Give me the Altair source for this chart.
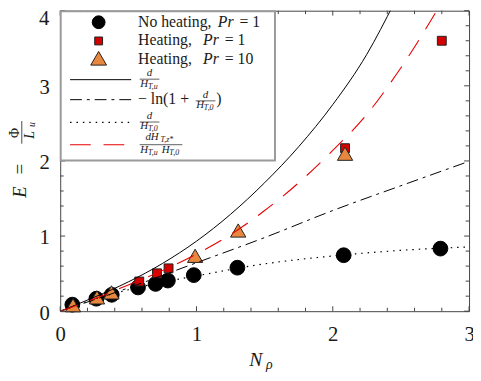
import altair as alt
import pandas as pd
import numpy as np

# ---------------- data ----------------
nh_x = [0.089, 0.265, 0.378, 0.571, 0.70, 0.79, 0.98, 1.30, 2.08, 2.79]
nh_y = [0.087, 0.166, 0.218, 0.316, 0.363, 0.408, 0.48, 0.579, 0.745, 0.833]

h1_x = [0.58, 0.71, 0.795, 2.09, 2.80]
h1_y = [0.395, 0.504, 0.57, 2.17, 3.60]

h10_x = [0.094, 0.27, 0.376, 0.99, 1.306, 2.09]
h10_y = [0.079, 0.184, 0.25, 0.737, 1.074, 2.096]

solid_x = [0, 0.25, 0.5, 0.75, 1.0, 1.25, 1.5, 1.75, 2.0, 2.25, 2.45]
solid_y = [0, 0.186, 0.39, 0.635, 0.932, 1.29, 1.71, 2.19, 2.75, 3.42, 4.1]

dashdot_x = [0, 0.5, 1.0, 1.5, 2.0, 2.5, 3.0]
dashdot_y = [0, 0.31, 0.645, 0.98, 1.34, 1.67, 1.995]

dotted_x = [0, 0.25, 0.5, 0.75, 1.0, 1.5, 2.0, 2.5, 3.0]
dotted_y = [0, 0.16, 0.285, 0.385, 0.47, 0.63, 0.735, 0.81, 0.855]

red_x = [0, 0.25, 0.5, 0.75, 1.0, 1.25, 1.5, 1.75, 2.0, 2.25, 2.5, 2.79]
red_y = [0, 0.165, 0.35, 0.54, 0.76, 1.02, 1.34, 1.71, 2.14, 2.62, 3.24, 4.08]

x_major = [0, 1, 2, 3]
y_major = [0, 1, 2, 3, 4]
y_labels_axis = [0, 1, 2, 3]
top_label = "4"
x_minor = [round(v, 1) for v in np.arange(0.2, 3.0, 0.2) if abs(v - round(v)) > 1e-6]
y_minor = [round(v, 1) for v in np.arange(0.2, 4.0, 0.2) if abs(v - round(v)) > 1e-6]

# ---------------- styling ----------------
W, H = 415, 305
FONT = "Liberation Serif, Times New Roman, Tinos, DejaVu Serif, serif"
TXT = "#1a1a1a"
FRAME = "#444444"
RED = "#e60000"
SQ_RED = "#d40000"
ORANGE = "#e8883e"

xs = alt.Scale(domain=[0, 3], nice=False, zero=False)
ys = alt.Scale(domain=[0, 4], nice=False, zero=False)
xaxis = alt.Axis(values=x_major, title=None, ticks=False, domain=False, grid=False,
                 labelFont=FONT, labelFontSize=21, labelColor=TXT, labelPadding=13,
                 format="d", labelFlush=False)
yaxis = alt.Axis(values=y_labels_axis, title=None, ticks=False, domain=False, grid=False,
                 labelFont=FONT, labelFontSize=21, labelColor=TXT, labelPadding=11,
                 labelOffset=2, format="d", labelFlush=False)

one = pd.DataFrame({"a": [0]})


def X(f):
    return alt.X(f, scale=xs, axis=xaxis)


def Y(f):
    return alt.Y(f, scale=ys, axis=yaxis)


def line(xv, yv, color, dash=None, width=1.0):
    df = pd.DataFrame({"x": xv, "y": yv})
    kw = dict(color=color, strokeWidth=width, clip=True, interpolate="monotone")
    if dash:
        kw["strokeDash"] = dash
    return alt.Chart(df).mark_line(**kw).encode(x=X("x:Q"), y=Y("y:Q"))


def pts(xv, yv, shape, size, fill, stroke):
    df = pd.DataFrame({"x": xv, "y": yv})
    return alt.Chart(df).mark_point(shape=shape, size=size, fill=fill, stroke=stroke,
                                    strokeWidth=1, fillOpacity=1, opacity=1).encode(
        x=X("x:Q"), y=Y("y:Q"))


def txt(s, x, y, size, italic=False, align="left", baseline="alphabetic", angle=0):
    kw = dict(text=s, font=FONT, fontSize=size, color=TXT, align=align, baseline=baseline)
    if italic:
        kw["fontStyle"] = "italic"
    if angle:
        kw["angle"] = angle
    return alt.Chart(one).mark_text(**kw).encode(x=alt.value(x), y=alt.value(y))


def hrule(x1, x2, y, color=TXT, width=0.8, dash=None):
    kw = dict(color=color, strokeWidth=width)
    if dash:
        kw["strokeDash"] = dash
    return alt.Chart(one).mark_rule(**kw).encode(x=alt.value(x1), x2=alt.value(x2), y=alt.value(y))


def vrule(x, y1, y2, color=TXT, width=0.8):
    return alt.Chart(one).mark_rule(color=color, strokeWidth=width).encode(
        x=alt.value(x), y=alt.value(y1), y2=alt.value(y2))


def sym(x, y, shape, size, fill, stroke):
    return alt.Chart(one).mark_point(shape=shape, size=size, fill=fill, stroke=stroke,
                                     strokeWidth=1, fillOpacity=1, opacity=1).encode(
        x=alt.value(x), y=alt.value(y))


# coordinate helpers (page pixels -> plot pixels)
def LX(px):
    return px - 61


def LY(py):  # legend rows (shifted slightly)
    return py - 4


def AY(py):
    return py - 8


layers = []

# markers
layers.append(pts(nh_x, nh_y, "circle", 225, "black", "black"))
layers.append(pts(h1_x, h1_y, "square", 81, SQ_RED, "#222222"))
layers.append(pts(h10_x, h10_y, "triangle-up", 240, ORANGE, "#222222"))

# curves
layers.append(line(solid_x, solid_y, "black", None, 1.0))
layers.append(line(dashdot_x, dashdot_y, "black", [12, 5, 3, 5], 1.0))
layers.append(line(dotted_x, dotted_y, "black", [1.5, 5], 1.2))
layers.append(line(red_x, red_y, RED, [19, 13], 1.1))

# ticks (inward, all four sides)
for vals, ln in [(x_major, 5), (x_minor, 3.5)]:
    d = pd.DataFrame({"v": vals})
    layers.append(alt.Chart(d).mark_rule(color=FRAME, strokeWidth=1).encode(
        x=X("v:Q"), y=alt.value(H), y2=alt.value(H - ln)))
    layers.append(alt.Chart(d).mark_rule(color=FRAME, strokeWidth=1).encode(
        x=X("v:Q"), y=alt.value(0), y2=alt.value(ln)))
for vals, ln in [(y_major, 5), (y_minor, 3.5)]:
    d = pd.DataFrame({"v": vals})
    layers.append(alt.Chart(d).mark_rule(color=FRAME, strokeWidth=1).encode(
        y=Y("v:Q"), x=alt.value(0), x2=alt.value(ln)))
    layers.append(alt.Chart(d).mark_rule(color=FRAME, strokeWidth=1).encode(
        y=Y("v:Q"), x=alt.value(W), x2=alt.value(W - ln)))

# top y tick label, kept inside the drawing
layers.append(txt(top_label, -11, 15, 21, align="right"))

# ---------------- legend ----------------
layers.append(alt.Chart(one).mark_rect(fill="white", stroke="#9a9a9a", strokeWidth=2).encode(
    x=alt.value(0.5), x2=alt.value(LX(279)), y=alt.value(0.5), y2=alt.value(LY(156))))

layers.append(sym(LX(100), LY(15.7), "circle", 169, "black", "black"))
layers.append(sym(LX(100), LY(34.7), "square", 64, SQ_RED, "#222222"))
layers.append(sym(LX(100), LY(52.3), "triangle-up", 256, ORANGE, "#222222"))

layers.append(txt("No heating,", LX(140), LY(20.7), 16))
layers.append(txt("Pr", LX(221), LY(20.7), 16, italic=True))
layers.append(txt("= 1", LX(243), LY(20.7), 16))
layers.append(txt("Heating,", LX(140), LY(39.3), 16))
layers.append(txt("Pr", LX(206), LY(39.3), 16, italic=True))
layers.append(txt("= 1", LX(228), LY(39.3), 16))
layers.append(txt("Heating,", LX(140), LY(58.3), 16))
layers.append(txt("Pr", LX(206), LY(58.3), 16, italic=True))
layers.append(txt("= 10", LX(228), LY(58.3), 16))

# legend line samples
layers.append(hrule(LX(71), LX(133), LY(74), "black", 1.0))
layers.append(hrule(LX(71), LX(133), LY(94.3), "black", 1.0, [12, 5, 3, 5]))
layers.append(hrule(LX(71), LX(133), LY(117.3), "black", 1.2, [1.5, 5]))
layers.append(hrule(LX(71), LX(133), LY(140), RED, 1.1, [21, 13]))


def frac_h(x_left, bar_y, sub, num="d", bar_w=20):
    out = []
    out.append(txt(num, LX(x_left + bar_w / 2), LY(bar_y - 3), 11, italic=True, align="center"))
    out.append(hrule(LX(x_left), LX(x_left + bar_w), LY(bar_y), TXT, 0.7))
    out.append(txt("H", LX(x_left + 0.5), LY(bar_y + 7.5), 11, italic=True))
    out.append(txt(sub, LX(x_left + 8.3), LY(bar_y + 9.5), 8, italic=True))
    return out


# row 4: d / H_{T,u}
layers += frac_h(141.7, 73.5, "T,u")
# row 5: -ln(1 + d/H_{T,0})
layers.append(txt("\u2212 ln(1 +", LX(140), LY(99), 16))
layers += frac_h(198.5, 95.5, "T,0")
layers.append(txt(")", LX(219.5), LY(99), 16))
# row 6: d / H_{T,0}
layers += frac_h(141.7, 117, "T,0")
# row 7: d H_{T,z*} / (H_{T,u} H_{T,0})
layers.append(txt("dH", LX(147.5), LY(135.5), 11, italic=True))
layers.append(txt("T,z*", LX(162.8), LY(137.5), 8, italic=True))
layers.append(hrule(LX(141.7), LX(185), LY(140), TXT, 0.7))
layers.append(txt("H", LX(142.2), LY(148.5), 11, italic=True))
layers.append(txt("T,u", LX(150), LY(150.5), 8, italic=True))
layers.append(txt("H", LX(164), LY(148.5), 11, italic=True))
layers.append(txt("T,0", LX(171.8), LY(150.5), 8, italic=True))

# ---------------- axis titles ----------------
# y title:  E = Phi / L_u  (rotated)
layers.append(txt("E", LX(26), AY(192), 19, italic=True, align="center", angle=270))
layers.append(txt("=", LX(26), AY(169), 19, align="center", angle=270))
layers.append(txt("\u03a6", LX(19.5), AY(132), 14, align="center", angle=270))
layers.append(vrule(LX(22), AY(120), AY(143), TXT, 0.8))
layers.append(txt("L", LX(34), AY(134), 14, italic=True, align="center", angle=270))
layers.append(txt("u", LX(35.5), AY(123.5), 10, italic=True, align="center", angle=270))
# x title: N_rho
layers.append(txt("N", LX(253), AY(369), 20, italic=True))
layers.append(txt("\u03c1", LX(270), AY(372), 14, italic=True))

chart = alt.layer(*layers).properties(
    width=W, height=H,
    autosize=alt.AutoSizeParams(type="none"),
    padding={"left": 53, "top": 0, "right": 4, "bottom": 60},
).configure_view(stroke=FRAME, strokeWidth=1)

chart.save("out.html", embed_options={"renderer": "svg", "actions": False})
